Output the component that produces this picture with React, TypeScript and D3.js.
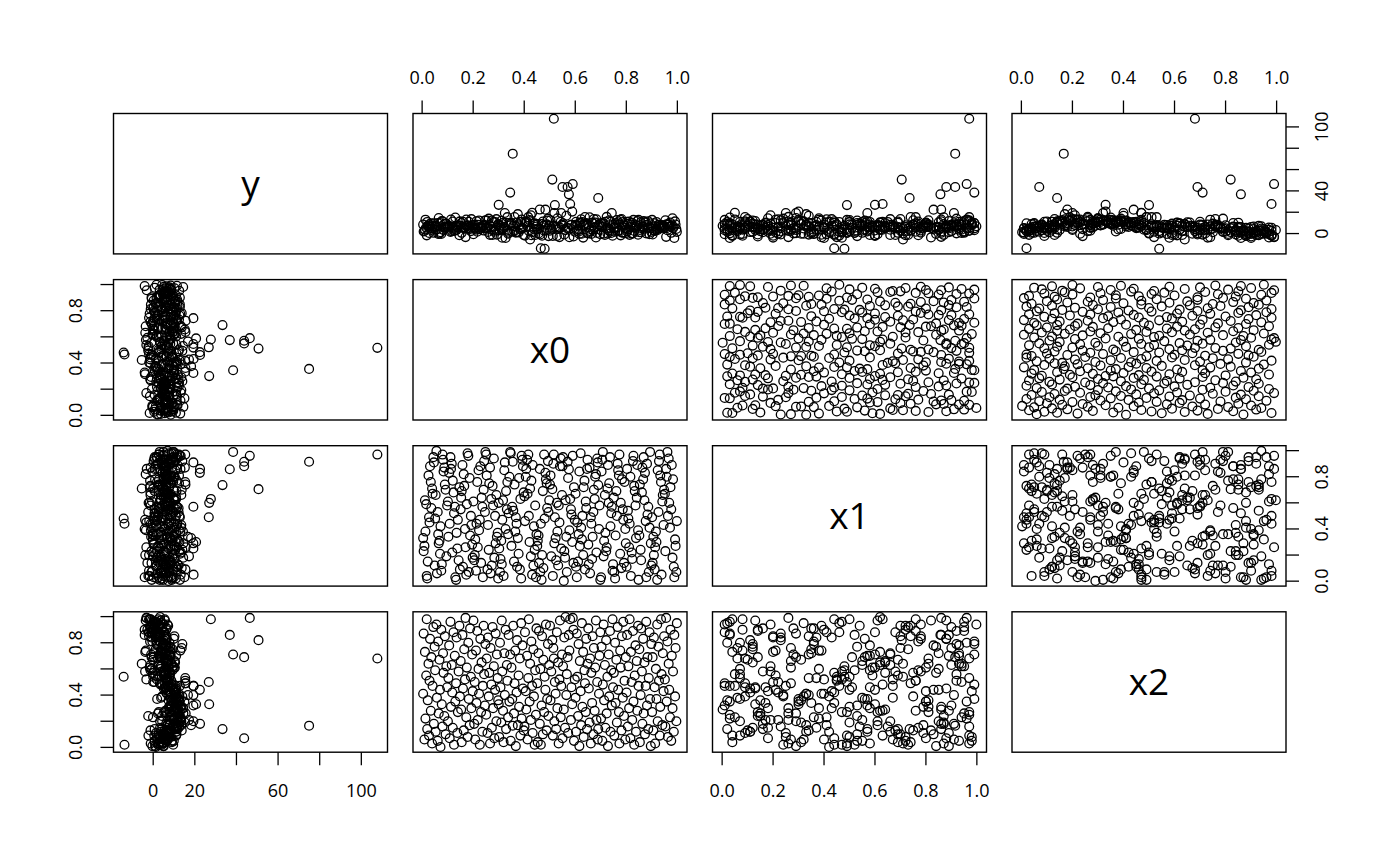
import * as d3 from "d3";

// observations, ordered by x0
const x0Vals = [
  .004,.006,.009,.011,.013,.016,.018,.020,.022,.025,.027,.029,.031,.034,.036,.039,.041,.044,.046,.049,
  .051,.053,.056,.058,.061,.063,.065,.068,.070,.072,.075,.077,.080,.082,.084,.087,.089,.092,.095,.098,
  .101,.103,.106,.108,.111,.113,.116,.118,.120,.123,.125,.128,.130,.133,.135,.138,.140,.143,.146,.148,
  .151,.153,.155,.158,.160,.163,.165,.168,.170,.173,.175,.178,.181,.183,.186,.188,.191,.193,.196,.198,
  .201,.204,.206,.208,.211,.213,.216,.218,.221,.223,.226,.228,.231,.233,.236,.238,.241,.243,.246,.248,
  .251,.253,.256,.258,.261,.263,.266,.268,.271,.273,.276,.278,.281,.283,.286,.288,.291,.293,.296,.298,
  .300,.302,.305,.307,.310,.312,.314,.317,.319,.322,.324,.327,.329,.332,.334,.337,.339,.342,.345,.347,
  .350,.353,.355,.357,.360,.362,.365,.367,.370,.372,.375,.378,.380,.383,.385,.388,.390,.393,.395,.398,
  .401,.403,.406,.408,.411,.413,.416,.418,.421,.423,.426,.428,.431,.433,.436,.438,.441,.443,.446,.448,
  .451,.453,.456,.458,.461,.463,.465,.468,.470,.473,.475,.478,.480,.483,.485,.488,.490,.493,.495,.498,
  .501,.503,.506,.510,.512,.514,.516,.518,.520,.523,.525,.528,.530,.533,.535,.538,.540,.543,.545,.548,
  .550,.552,.555,.557,.560,.562,.565,.567,.570,.572,.575,.577,.580,.583,.585,.588,.590,.593,.595,.598,
  .601,.603,.606,.608,.611,.613,.616,.618,.621,.623,.626,.628,.631,.633,.636,.638,.641,.643,.646,.648,
  .651,.653,.656,.658,.661,.663,.666,.668,.671,.673,.676,.678,.681,.683,.686,.688,.690,.693,.695,.698,
  .701,.703,.706,.708,.711,.713,.716,.718,.721,.723,.726,.728,.731,.733,.736,.738,.741,.743,.746,.748,
  .751,.753,.756,.758,.761,.763,.766,.768,.771,.773,.776,.778,.781,.783,.786,.788,.791,.793,.796,.798,
  .801,.803,.806,.808,.811,.813,.816,.818,.821,.823,.826,.828,.831,.833,.836,.838,.841,.843,.846,.848,
  .851,.853,.856,.858,.861,.863,.866,.868,.871,.873,.876,.878,.881,.883,.886,.888,.891,.893,.896,.898,
  .901,.903,.906,.908,.911,.913,.916,.918,.921,.923,.926,.928,.931,.933,.936,.938,.941,.943,.946,.948,
  .951,.953,.956,.958,.961,.963,.966,.968,.971,.973,.976,.978,.981,.983,.986,.988,.991,.993,.996,.998,
];

const x1Vals = [
  .33,.23,.27,.62,.38,.59,.04,.02,.15,.81,.49,.45,.88,.76,.56,.71,.67,.95,.91,.12,
  .48,.66,.998,.06,.53,.36,.29,.31,.21,.42,.08,.13,.97,.93,.84,.87,.74,.70,.19,.58,
  .61,.34,.83,.44,.95,.86,.90,.22,.77,.68,.52,.57,.03,.01,.37,.25,.47,.16,.72,.09,
  .55,.64,.69,.89,.11,.82,.73,.40,.26,.05,.59,.98,.96,.07,.79,.35,.50,.43,.28,.18,
  .61,.16,.20,.32,.08,.44,.76,.26,.85,.39,.47,.88,.14,.64,.57,.03,.70,.92,.53,.99,
  .97,.81,.09,.43,.24,.75,.87,.06,.63,.12,.73,.58,.94,.18,.50,.29,.66,.34,.37,.02,
  .60,.25,.07,.17,.31,.13,.47,.62,.04,.85,.91,.40,.69,.55,.76,.36,.52,.80,.99,.98,
  .27,.57,.915,.54,.15,.74,.38,.49,.44,.11,.33,.21,.79,.09,.63,.02,.96,.93,.88,.68,
  .65,.46,.80,.86,.93,.67,.97,.50,.30,.71,.19,.77,.05,.89,.12,.42,.24,.58,.03,.36,
  .27,.31,.35,.14,.86,.07,.44,.01,.20,.69,.10,.97,.48,.83,.78,.75,.56,.92,.53,.62,
  .74,.81,.19,.705,.04,.90,.97,.29,.49,.33,.16,.60,.38,.12,.58,.45,.88,.94,.25,.66,
  .88,.95,.002,.23,.18,.62,.34,.07,.915,.79,.857,.39,.63,.55,.51,.30,.96,.14,.72,.47,
  .67,.11,.03,.45,.15,.36,.84,.27,.98,.41,.32,.50,.20,.72,.77,.09,.61,.56,.86,.93,
  .28,.13,.87,.06,.49,.44,.17,.34,.53,.70,.63,.80,.82,.22,.94,.91,.736,.40,.58,.01,
  .03,.84,.93,.99,.19,.31,.66,.37,.23,.26,.71,.89,.60,.75,.95,.42,.52,.57,.08,.13,
  .64,.07,.02,.35,.69,.50,.90,.85,.81,.97,.21,.60,.10,.78,.55,.47,.14,.76,.40,.29,
  .11,.86,.54,.48,.26,.44,.80,.04,.22,.17,.92,.96,.73,.69,.58,.33,.64,.89,.39,.01,
  .35,.74,.24,.16,.68,.87,.78,.95,.62,.83,.46,.03,.90,.51,.57,.07,.41,.99,.29,.12,
  .49,.14,.34,.20,.09,.26,.38,.30,.01,.85,.53,.92,.97,.81,.76,.05,.61,.66,.43,.70,
  .67,.23,.86,.80,.99,.50,.94,.60,.41,.72,.55,.89,.18,.78,.11,.03,.32,.27,.07,.46,
];

const x2Vals = [
  .41,.87,.06,.73,.22,.55,.98,.14,.36,.64,.09,.51,.83,.28,.69,.03,.47,.92,.18,.77,
  .59,.12,.94,.38,.05,.81,.26,.67,.44,.003,.90,.33,.16,.72,.57,.24,.85,.10,.62,.46,
  .20,.53,.78,.07,.96,.31,.63,.42,.15,.88,.02,.70,.35,.49,.84,.11,.27,.58,.93,.39,
  .66,.29,.04,.86,.45,.13,.75,.52,.99,.23,.61,.08,.80,.37,.17,.91,.54,.30,.71,.43,
  .97,.18,.50,.06,.74,.34,.89,.21,.60,.41,.02,.83,.27,.65,.12,.47,.93,.56,.32,.79,
  .25,.68,.11,.84,.39,.57,.03,.76,.48,.15,.92,.30,.62,.07,.44,.87,.20,.71,.53,.36,
  .33,.08,.80,.46,.19,.97,.58,.28,.04,.72,.40,.90,.14,.63,.51,.23,.86,.35,.71,.05,
  .61,.37,.166,.93,.26,.49,.74,.01,.42,.82,.17,.55,.31,.68,.09,.95,.22,.78,.45,.13,
  .16,.88,.43,.29,.70,.06,.53,.98,.35,.64,.21,.81,.47,.11,.75,.39,.02,.59,.25,.91,
  .49,.04,.72,.89,.18,.60,.02,.32,.85,.10,.67,.27,.54,.44,.94,.13,.37,.79,.24,.63,
  .93,.36,.58,.82,.09,.76,.68,.20,.50,.41,.14,.88,.30,.65,.03,.52,.97,.23,.47,.71,
  .07,.62,.29,.84,.15,.997,.40,.56,.69,.11,.86,.74,.98,.21,.46,.33,.99,.90,.05,.52,
  .38,.12,.87,.54,.24,.79,.01,.66,.43,.17,.95,.31,.73,.08,.59,.49,.27,.83,.14,.64,
  .91,.45,.19,.68,.03,.57,.34,.85,.10,.76,.28,.61,.97,.21,.50,.06,.14,.41,.70,.88,
  .22,.77,.05,.48,.94,.36,.63,.15,.82,.26,.54,.01,.71,.39,.89,.12,.59,.32,.98,.46,
  .57,.09,.80,.34,.67,.19,.92,.44,.27,.03,.74,.61,.13,.85,.38,.96,.24,.51,.06,.69,
  .42,.86,.16,.62,.30,.98,.07,.73,.50,.21,.89,.35,.02,.55,.78,.12,.66,.28,.93,.47,
  .75,.04,.40,.91,.58,.18,.83,.26,.65,.10,.47,.96,.32,.69,.14,.53,.88,.37,.01,.79,
  .27,.69,.13,.84,.46,.03,.60,.37,.94,.20,.77,.51,.09,.31,.98,.56,.17,.72,.43,.85,
  .52,.16,.99,.35,.81,.08,.64,.44,.23,.90,.05,.70,.30,.58,.12,.86,.39,.76,.20,.95,
];

const yVals = [
  8.4,1.9,2.4,3.7,13.0,5.6,-1.7,10.9,7.4,6.6,0.5,8.7,6.1,9.6,3.4,4.9,7.0,0.7,9.7,6.0,
  7.2,3.6,6.9,3.8,9.9,-0.4,14.5,-0.1,9.9,1.3,-0.4,11.7,11.4,3.5,5.9,8.9,6.3,5.6,9.3,6.1,
  6.7,6.7,4.5,7.1,1.6,13.1,2.3,6.2,11.3,5.4,2.4,2.9,15.0,3.2,3.5,7.3,5.9,7.8,-1.6,11.4,
  7.2,9.9,0.7,6.0,11.1,5.5,4.5,5.8,-3.3,13.2,7.4,7.7,5.0,11.0,6.7,4.3,2.3,13.5,5.2,7.9,
  -0.6,8.1,5.4,4.8,3.7,11.6,1.8,8.1,5.7,12.3,4.2,6.1,5.2,6.2,5.9,7.3,2.8,8.1,12.2,4.9,
  12.4,6.1,5.3,1.5,14.0,8.0,-1.2,6.5,3.6,12.2,-1.4,10.9,3.6,1.8,10.9,3.4,13.5,-1.0,7.9,9.0,
  26.9,3.1,7.8,5.5,11.9,3.5,-3.9,10.1,4.9,6.2,19.3,-4.1,10.2,2.7,15.4,-0.1,0.8,9.8,38.4,8.9,
  10.0,1.9,74.9,7.2,2.3,15.5,6.6,0.9,10.1,1.4,18.2,1.0,7.8,4.1,11.0,4.2,13.2,5.1,5.1,-1.3,
  10.9,-1.9,10.0,11.5,11.0,6.8,15.4,2.5,12.6,-5.5,17.2,-1.5,19.4,1.3,9.3,4.3,9.6,-1.3,8.8,6.5,
  4.1,9.0,0.1,5.0,22.5,-0.8,-13.8,8.9,-2.0,11.2,7.3,2.7,-14.2,22.4,2.8,8.6,12.2,14.0,-2.4,7.4,
  2.6,12.4,3.9,50.6,-2.3,7.4,107.7,19.3,26.7,6.6,3.9,-2.2,14.3,6.4,4.3,-3.3,5.6,11.1,19.3,8.2,
  43.7,9.6,7.3,-0.9,3.3,3.3,16.7,5.1,43.7,5.2,36.8,-3.5,27.7,8.1,8.3,20.6,46.4,-2.8,6.2,1.8,
  8.3,11.0,2.7,7.8,4.2,1.7,-0.4,10.3,10.0,13.4,-0.2,10.8,-3.8,7.7,9.3,15.5,7.9,9.9,0.7,8.8,
  0.2,5.9,15.2,2.3,4.0,-0.3,10.0,10.2,2.6,13.7,5.8,10.4,-3.6,13.3,0.6,6.9,33.3,8.5,8.4,-0.7,
  9.9,6.0,6.6,9.8,-0.1,9.2,-1.3,11.1,5.0,15.6,0.0,4.8,2.9,12.4,1.9,11.1,0.6,19.3,-2.0,8.4,
  5.1,6.0,1.8,9.8,5.6,12.6,2.2,10.6,8.6,2.7,13.0,-1.7,13.7,0.9,10.9,0.9,8.5,7.3,5.2,0.3,
  11.0,2.0,9.1,3.8,11.3,-1.2,6.0,8.4,0.0,10.0,0.2,12.8,2.5,5.8,6.2,8.0,7.0,11.7,-1.1,12.8,
  1.2,3.4,10.6,1.3,4.9,6.2,6.6,11.8,10.5,4.6,10.8,0.2,8.3,5.4,11.5,5.9,-0.7,9.7,5.1,1.6,
  12.8,-0.8,6.7,2.8,9.7,2.4,3.5,10.9,4.7,3.3,8.1,6.6,5.1,7.6,5.5,5.7,7.9,5.7,7.3,5.2,
  6.3,12.5,-3.1,8.7,3.1,8.6,8.5,6.6,10.3,6.2,0.7,7.8,14.4,5.1,6.4,-4.1,11.4,8.4,4.3,1.6,
];

const varNames = ["y", "x0", "x1", "x2"];
const unitTicks = [0, 0.2, 0.4, 0.6, 0.8, 1];
const unitLabels = ["0.0", "0.2", "0.4", "0.6", "0.8", "1.0"];
const unitSideLabels = ["0.0", "", "0.4", "", "0.8", ""];
const yTicks = [0, 20, 40, 60, 80, 100];
const yBottomLabels = ["0", "20", "", "60", "", "100"];
const yRightLabels = ["0", "", "40", "", "", "100"];

const vars = [yVals, x0Vals, x1Vals, x2Vals];

const W = 1400;
const H = 866;
const left0 = 113.5;
const top0 = 113.5;
const pitchX = 299.5;
const pitchY = 166.1;
const panelW = 274;
const panelH = 140.4;
const tickLen = 13;
const font = "'Open Sans', 'Noto Sans', sans-serif";

const padded = (v: number[]): [number, number] => {
  const [lo, hi] = d3.extent(v) as [number, number];
  const pad = (hi - lo) * 0.04;
  return [lo - pad, hi + pad];
};

const ticksFor = (k: number) => (k === 0 ? yTicks : unitTicks);

const App = () => {
  const panels: any[] = [];
  const axes: any[] = [];

  for (let r = 0; r < 4; r++) {
    for (let c = 0; c < 4; c++) {
      const left = left0 + c * pitchX;
      const top = top0 + r * pitchY;
      const xs = d3.scaleLinear().domain(padded(vars[c])).range([left, left + panelW]);
      const ys = d3.scaleLinear().domain(padded(vars[r])).range([top + panelH, top]);

      panels.push(
        <g key={`p${r}-${c}`}>
          {r === c ? (
            <text
              x={left + panelW / 2}
              y={top + panelH / 2 + 13.3}
              textAnchor="middle"
              fontSize={37}
              fontFamily={font}
            >
              {varNames[r]}
            </text>
          ) : (
            vars[c].map((v, i) => (
              <circle
                key={i}
                cx={xs(v)}
                cy={ys(vars[r][i])}
                r={4.4}
                fill="none"
                stroke="#000"
                strokeWidth={1.3}
              />
            ))
          )}
          <rect x={left} y={top} width={panelW} height={panelH} fill="none" stroke="#000" strokeWidth={1.4} />
        </g>
      );

      // top axis
      if (r === 0 && c % 2 === 1) {
        const t = ticksFor(c);
        axes.push(
          <g key={`ta${c}`}>
            {t.map((v, i) => (
              <g key={i}>
                <line x1={xs(v)} x2={xs(v)} y1={top} y2={top - tickLen} stroke="#000" strokeWidth={1.3} />
                <text x={xs(v)} y={top - 29.5} textAnchor="middle" fontSize={18} fontFamily={font}>
                  {unitLabels[i]}
                </text>
              </g>
            ))}
          </g>
        );
      }
      // bottom axis
      if (r === 3 && c % 2 === 0) {
        const t = ticksFor(c);
        const labs = c === 0 ? yBottomLabels : unitLabels;
        const b = top + panelH;
        axes.push(
          <g key={`ba${c}`}>
            {t.map((v, i) => (
              <g key={i}>
                <line x1={xs(v)} x2={xs(v)} y1={b} y2={b + tickLen} stroke="#000" strokeWidth={1.3} />
                <text x={xs(v)} y={b + 45} textAnchor="middle" fontSize={18} fontFamily={font}>
                  {labs[i]}
                </text>
              </g>
            ))}
          </g>
        );
      }
      // left axis
      if (c === 0 && r % 2 === 1) {
        const t = ticksFor(r);
        axes.push(
          <g key={`la${r}`}>
            {t.map((v, i) => (
              <g key={i}>
                <line x1={left} x2={left - tickLen} y1={ys(v)} y2={ys(v)} stroke="#000" strokeWidth={1.3} />
                <text
                  transform={`translate(${left - 31.5},${ys(v)}) rotate(-90)`}
                  textAnchor="middle"
                  fontSize={18}
                  fontFamily={font}
                >
                  {unitSideLabels[i]}
                </text>
              </g>
            ))}
          </g>
        );
      }
      // right axis
      if (c === 3 && r % 2 === 0) {
        const t = ticksFor(r);
        const labs = r === 0 ? yRightLabels : unitSideLabels;
        const rt = left + panelW;
        axes.push(
          <g key={`ra${r}`}>
            {t.map((v, i) => (
              <g key={i}>
                <line x1={rt} x2={rt + tickLen} y1={ys(v)} y2={ys(v)} stroke="#000" strokeWidth={1.3} />
                <text
                  transform={`translate(${rt + 41.5},${ys(v)}) rotate(-90)`}
                  textAnchor="middle"
                  fontSize={18}
                  fontFamily={font}
                >
                  {labs[i]}
                </text>
              </g>
            ))}
          </g>
        );
      }
    }
  }

  return (
    <svg
      width={W}
      height={H}
      style={{ position: "absolute", left: 0, top: 0, background: "#fff" }}
    >
      {panels}
      {axes}
    </svg>
  );
};

export default App;
